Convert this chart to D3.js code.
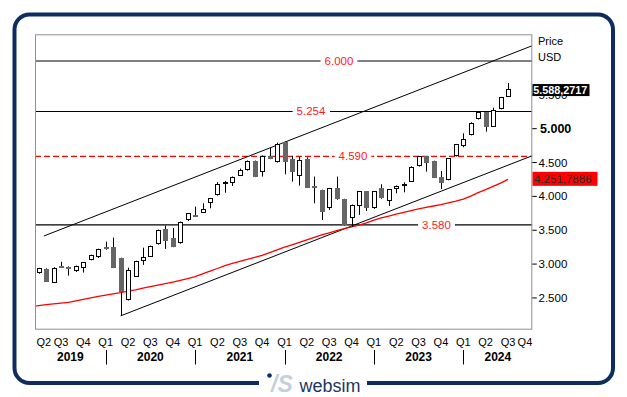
<!DOCTYPE html>
<html>
<head>
<meta charset="utf-8">
<script src="https://d3js.org/d3.v7.min.js"></script>
<style>
  body { margin: 0; background: #fff; }
  svg { display: block; font-family: "Liberation Sans", Arial, sans-serif; }
</style>
</head>
<body>
<svg id="chart" width="627" height="397"></svg>
<script>
// monthly candles, Apr 2019 - Jul 2024
var months = ["2019-04","2019-05","2019-06","2019-07","2019-08","2019-09","2019-10","2019-11","2019-12",
  "2020-01","2020-02","2020-03","2020-04","2020-05","2020-06","2020-07","2020-08","2020-09","2020-10","2020-11","2020-12",
  "2021-01","2021-02","2021-03","2021-04","2021-05","2021-06","2021-07","2021-08","2021-09","2021-10","2021-11","2021-12",
  "2022-01","2022-02","2022-03","2022-04","2022-05","2022-06","2022-07","2022-08","2022-09","2022-10","2022-11","2022-12",
  "2023-01","2023-02","2023-03","2023-04","2023-05","2023-06","2023-07","2023-08","2023-09","2023-10","2023-11","2023-12",
  "2024-01","2024-02","2024-03","2024-04","2024-05","2024-06","2024-07"];
var opens = [2864,2924,2727,2972,2963,2894,2938,3061,3101,
  3258,3258,3090,2470,2815,3052,3111,3293,3519,3386,3307,3652,
  3722,3760,3898,4016,4188,4193,4306,4385,4523,4356,4597,4503,
  4799,4553,4302,4553,4150,4095,3824,4129,3962,3676,3859,4075,
  3824,4120,3937,4110,4169,4218,4449,4592,4523,4292,4243,4597,
  4745,4907,5143,5252,5030,5291,5473];
var highs = [2945,2938,2953,3035,2966,2978,3030,3140,3228,
  3332,3391,3095,2948,3050,3243,3272,3510,3568,3534,3628,3755,
  3849,3898,3975,4208,4228,4295,4410,4530,4530,4605,4720,4794,
  4809,4597,4587,4577,4292,4100,4125,4292,3965,3880,4080,4080,
  4080,4179,4110,4162,4208,4445,4595,4595,4528,4375,4565,4775,
  4932,5095,5262,5255,5311,5470,5675];
var lows = [2858,2736,2722,2955,2830,2885,2874,3055,3090,
  3212,2940,2235,2462,2810,2988,3105,3288,3224,3250,3300,3637,
  3695,3755,3824,4010,4055,4154,4300,4380,4285,4292,4550,4500,
  4326,4218,4159,4125,3898,3652,3800,3950,3570,3550,3726,3785,
  3815,3965,3859,4046,4060,4212,4440,4366,4270,4110,4238,4590,
  4725,4900,5135,4956,5025,5285,5470];
var closes = [2938,2741,2938,2958,2924,2973,3027,3135,3224,
  3219,2948,2590,2914,3047,3111,3268,3504,3347,3258,3622,3750,
  3700,3809,3972,4178,4206,4292,4385,4523,4292,4602,4557,4769,
  4513,4366,4538,4129,4134,3775,4119,3957,3578,3873,4075,3834,
  4075,3972,4105,4159,4188,4440,4592,4499,4277,4193,4562,4769,
  4843,5089,5252,5030,5276,5463,5586];

// moving average (red), Mar 2019 - Jul 2024
var maMonths = ["2019-03"].concat(months);
var maValues = [2372,2388,2400,2412,2424,2436,2456,2478,2500,2522,
  2542,2560,2577,2600,2620,2644,2668,2690,2712,2735,2758,2785,
  2815,2855,2895,2935,2978,3010,3040,3068,3098,3128,3168,3210,
  3250,3285,3320,3356,3394,3430,3462,3496,3524,3548,3575,3610,
  3648,3682,3710,3737,3765,3790,3816,3838,3858,3878,3903,3930,
  3960,4005,4055,4100,4148,4195,4252];

var levels = [6000, 5254, 4590, 3580];
var levelLabels = ["6.000", "5.254", "4.590", "3.580"];

var upperTrend = [["2019-04-22", 3415], ["2024-10-09", 6226]];
var lowerTrend = [["2020-03-01", 2235], ["2024-10-09", 4601]];

var priceTicks = [2500, 3000, 3500, 4000, 4500, 5000, 5500];
var priceTickLabels = ["2.500", "3.000", "3.500", "4.000", "4.500", "5.000", "5.500"];

var quarterTicks = ["2019-04","2019-07","2019-10","2020-01","2020-04","2020-07","2020-10",
  "2021-01","2021-04","2021-07","2021-10","2022-01","2022-04","2022-07","2022-10",
  "2023-01","2023-04","2023-07","2023-10","2024-01","2024-04","2024-07","2024-10"];
var quarterLabels = ["Q2","Q3","Q4","Q1","Q2","Q3","Q4","Q1","Q2","Q3","Q4","Q1","Q2","Q3","Q4",
  "Q1","Q2","Q3","Q4","Q1","Q2","Q3","Q4"];
var years = ["2019", "2020", "2021", "2022", "2023", "2024"];
var yearStarts = ["2020-01", "2021-01", "2022-01", "2023-01", "2024-01"];

var lastPrice = 5588.2717, lastPriceLabel = "5.588,2717";
var lastMa = 4251.7886, lastMaLabel = "4.251,7886";

// layout
var plot = {left: 35, right: 532.3, top: 34.3, bottom: 329.7};
var levelLabelX = [339, 311, 353, 436.5];
var levelDashed = [false, false, true, false];
var navy = "#0d2d61";

function monthIdx(s) {
  var p = s.split("-");
  var d = p.length > 2 ? (+p[2] - 1) / 30 : 0;
  return (+p[0] - 2019) * 12 + (+p[1] - 1) + d;
}

var x = d3.scaleLinear().domain([2.51, 69.26]).range([plot.left, plot.right]);
var y = d3.scaleLinear().domain([2031, 6394]).range([plot.bottom, plot.top]);

var svg = d3.select("#chart");
svg.append("rect").attr("width", 627).attr("height", 397).attr("fill", "#fff");

// outer frame with logo gap
svg.append("rect")
  .attr("x", 14.5).attr("y", 14.5).attr("width", 598.5).attr("height", 368.5)
  .attr("rx", 15).attr("fill", "none").attr("stroke", navy).attr("stroke-width", 4);
svg.append("rect").attr("x", 259).attr("y", 378).attr("width", 108).attr("height", 10).attr("fill", "#fff");
svg.append("circle").attr("cx", 269.5).attr("cy", 375.5).attr("r", 2.3).attr("fill", navy);
svg.append("text").attr("x", 271).attr("y", 392)
  .attr("font-size", 23).attr("font-weight", "bold").attr("font-style", "italic")
  .attr("fill", "#c5d0dd").text("/S");
svg.append("text").attr("x", 299.5).attr("y", 391.5)
  .attr("font-size", 18).attr("fill", "#1c3563").text("websim");

svg.append("defs").append("clipPath").attr("id", "clip")
  .append("rect")
  .attr("x", plot.left).attr("y", plot.top)
  .attr("width", plot.right - plot.left).attr("height", plot.bottom - plot.top);

var g = svg.append("g").attr("clip-path", "url(#clip)");

// horizontal levels
g.selectAll("line.level").data(levels).enter().append("line")
  .attr("class", "level")
  .attr("x1", plot.left).attr("x2", plot.right)
  .attr("y1", function (d) { return y(d); }).attr("y2", function (d) { return y(d); })
  .attr("stroke", function (d, i) { return levelDashed[i] ? "#ff0000" : "#000"; })
  .attr("stroke-width", 1.2)
  .attr("stroke-dasharray", function (d, i) { return levelDashed[i] ? "6,3" : null; });

// trend channel
[upperTrend, lowerTrend].forEach(function (t) {
  g.append("line")
    .attr("x1", x(monthIdx(t[0][0]))).attr("y1", y(t[0][1]))
    .attr("x2", x(monthIdx(t[1][0]))).attr("y2", y(t[1][1]))
    .attr("stroke", "#000").attr("stroke-width", 1);
});

// moving average
var maLine = d3.line()
  .x(function (d, i) { return x(monthIdx(maMonths[i])); })
  .y(function (d) { return y(d); });
g.append("path").datum(maValues)
  .attr("d", maLine).attr("fill", "none")
  .attr("stroke", "#ff0000").attr("stroke-width", 1.3);

// candles
var candles = g.selectAll("g.candle").data(months).enter().append("g").attr("class", "candle");
candles.each(function (m, i) {
  var c = d3.select(this);
  var cx = Math.round(x(monthIdx(m))) + 0.5;
  var o = opens[i], h = highs[i], l = lows[i], cl = closes[i];
  var top = Math.round(y(Math.max(o, cl))), bot = Math.round(y(Math.min(o, cl)));
  c.append("line").attr("x1", cx).attr("x2", cx)
    .attr("y1", y(h)).attr("y2", y(l))
    .attr("stroke", "#000").attr("stroke-width", 1);
  if (cl >= o) {
    c.append("rect").attr("x", cx - 2).attr("y", top + 0.5)
      .attr("width", 4).attr("height", Math.max(bot - top - 1, 1))
      .attr("fill", "#fff").attr("stroke", "#000").attr("stroke-width", 1);
  } else {
    c.append("rect").attr("x", cx - 2.5).attr("y", top)
      .attr("width", 5).attr("height", Math.max(bot - top, 2))
      .attr("fill", "#666");
  }
});

// level labels with white gap
levels.forEach(function (v, i) {
  var t = g.append("text")
    .attr("x", levelLabelX[i]).attr("y", y(v))
    .attr("text-anchor", "middle").attr("dominant-baseline", "central")
    .attr("font-size", 11.5).attr("fill", "#ff2020").text(levelLabels[i]);
  var b = t.node().getBBox();
  g.insert("rect", function () { return t.node(); })
    .attr("x", b.x - 4).attr("y", y(v) - 3).attr("width", b.width + 8).attr("height", 6)
    .attr("fill", "#fff");
});

// plot border
svg.append("rect")
  .attr("x", plot.left + 0.5).attr("y", plot.top + 0.5)
  .attr("width", plot.right - plot.left - 1).attr("height", plot.bottom - plot.top - 1)
  .attr("fill", "none").attr("stroke", "#8e8e9c").attr("stroke-width", 1);

// price axis
var ya = svg.append("g");
priceTicks.forEach(function (v, i) {
  var yy = y(v);
  ya.append("line").attr("x1", plot.right).attr("x2", plot.right + 4.5)
    .attr("y1", yy).attr("y2", yy).attr("stroke", "#000").attr("stroke-width", 1);
  ya.append("text").attr("x", v === 5000 ? 540 : 538.5).attr("y", yy)
    .attr("dominant-baseline", "central")
    .attr("font-size", v === 5000 ? 12.5 : 11.5)
    .attr("font-weight", v === 5000 ? "bold" : "normal")
    .attr("fill", "#000").text(priceTickLabels[i]);
});
svg.append("text").attr("x", 538).attr("y", 41).attr("dominant-baseline", "central")
  .attr("font-size", 11).text("Price");
svg.append("text").attr("x", 538).attr("y", 56.7).attr("dominant-baseline", "central")
  .attr("font-size", 11).text("USD");

// value boxes
svg.append("rect").attr("x", 532.5).attr("y", y(lastPrice) - 4.8).attr("width", 57).attr("height", 12)
  .attr("fill", "#000");
svg.append("text").attr("x", 533.3).attr("y", y(lastPrice) + 1.3).attr("dominant-baseline", "central")
  .attr("font-size", 10.8).attr("font-weight", "bold").attr("fill", "#fff").text(lastPriceLabel);
svg.append("rect").attr("x", 532.5).attr("y", y(lastMa) - 7.5).attr("width", 65).attr("height", 14)
  .attr("fill", "#ff0000");
svg.append("text").attr("x", 534).attr("y", y(lastMa)).attr("dominant-baseline", "central")
  .attr("font-size", 11.5).attr("fill", "#2a2a2a").text(lastMaLabel);

// time axis
var xa = svg.append("g");
quarterTicks.forEach(function (q, i) {
  var t = xa.append("text").attr("y", 341.7).attr("dominant-baseline", "central")
    .attr("text-anchor", "middle").attr("font-size", 11).attr("fill", "#000")
    .text(quarterLabels[i]);
  var w = t.node().getComputedTextLength();
  var cx = Math.max(plot.left + w / 2 + 1.5, Math.min(plot.right - w / 2, x(monthIdx(q))));
  t.attr("x", cx);
});
yearStarts.forEach(function (s) {
  var xx = Math.round(x(monthIdx(s))) + 0.5;
  xa.append("line").attr("x1", xx).attr("x2", xx).attr("y1", 350).attr("y2", 364.5)
    .attr("stroke", "#000").attr("stroke-width", 1);
});
var bounds = [plot.left].concat(yearStarts.map(function (s) { return x(monthIdx(s)); }), [plot.right]);
years.forEach(function (yr, i) {
  xa.append("text").attr("x", (bounds[i] + bounds[i + 1]) / 2).attr("y", 356.5)
    .attr("text-anchor", "middle").attr("dominant-baseline", "central")
    .attr("font-size", 12).attr("font-weight", "bold").attr("fill", "#000").text(yr);
});
</script>
</body>
</html>
